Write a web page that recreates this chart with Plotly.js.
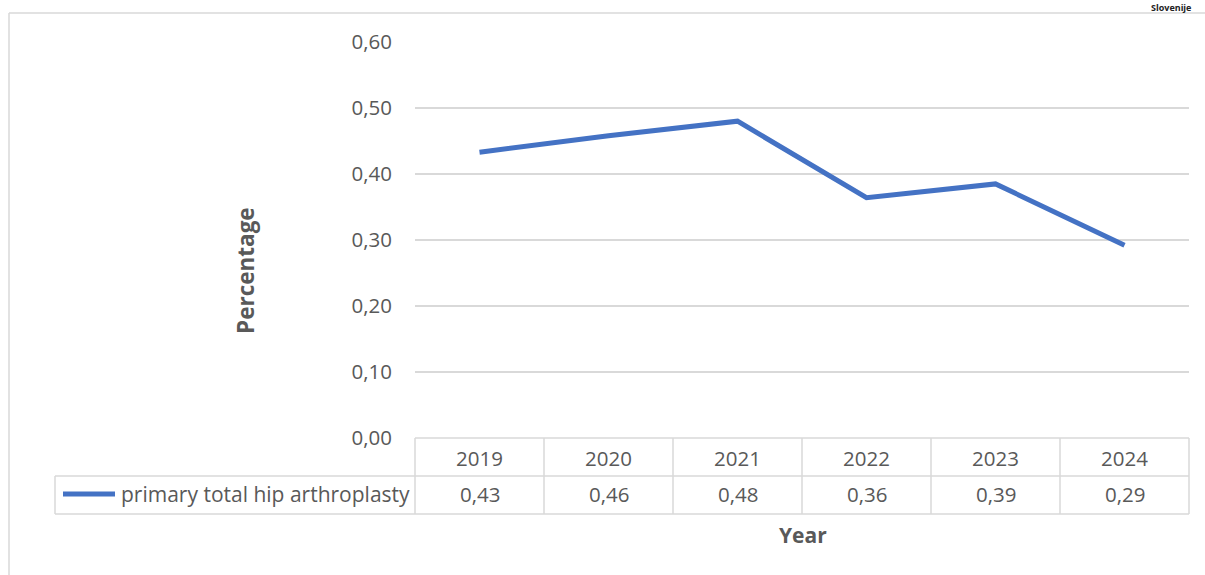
<!DOCTYPE html>
<html>
<head>
<meta charset="utf-8">
<script src="https://cdn.plot.ly/plotly-3.0.1.min.js"></script>
<style>
html,body{margin:0;padding:0;background:#fff;}
#chart{width:1205px;height:575px;}
</style>
</head>
<body>
<div id="chart"></div>
<script>
const years = ["2019", "2020", "2021", "2022", "2023", "2024"];
const values = [0.433, 0.458, 0.480, 0.364, 0.385, 0.292];
const tableLabels = ["0,43", "0,46", "0,48", "0,36", "0,39", "0,29"];
const seriesName = "primary total hip arthroplasty";
const yTicks = [0, 0.1, 0.2, 0.3, 0.4, 0.5, 0.6];

const W = 1205, H = 575;
const px = x => x / W;
const py = y => 1 - y / H;

const plotL = 415, plotR = 1189, plotT = 42, plotB = 438;
const row1B = 476, row2B = 514, legendL = 55;
const gridColor = "#d9d9d9";
const textColor = "#595959";
const font = "'Open Sans', 'Noto Sans', sans-serif";
const fs = 20.5;
const blue = "#4472C4";

const idx = years.map((_, i) => i);
const colW = (plotR - plotL) / years.length;

const shapes = [];
function line(x0, y0, x1, y1, color, width) {
  shapes.push({type: "line", xref: "paper", yref: "paper",
    x0: px(x0), y0: py(y0), x1: px(x1), y1: py(y1),
    line: {color: color, width: width}});
}
// outer frame
line(9, 13, W, 13, gridColor, 1.5);
line(9, 13, 9, H, gridColor, 1.5);
// table horizontals
line(plotL, plotB, plotR, plotB, gridColor, 1.5);
line(legendL, row1B, plotR, row1B, gridColor, 1.5);
line(legendL, row2B, plotR, row2B, gridColor, 1.5);
// table verticals
for (let k = 0; k <= years.length; k++) {
  const x = plotL + k * colW;
  line(x, plotB, x, row2B, gridColor, 1.5);
}
line(legendL, row1B, legendL, row2B, gridColor, 1.5);
// legend key
shapes.push({type: "line", xref: "paper", yref: "paper",
  x0: px(63), y0: py(494), x1: px(115), y1: py(494),
  line: {color: blue, width: 5}});

const annotations = [];
years.forEach((yr, i) => {
  annotations.push({xref: "x", yref: "paper", x: i, y: py(458), text: yr,
    showarrow: false, xanchor: "center", yanchor: "middle",
    font: {family: font, size: fs, color: textColor}});
  annotations.push({xref: "x", yref: "paper", x: i, y: py(494), text: tableLabels[i],
    showarrow: false, xanchor: "center", yanchor: "middle",
    font: {family: font, size: fs, color: textColor}});
});
annotations.push({xref: "paper", yref: "paper", x: px(119), y: py(494), text: seriesName,
  showarrow: false, xanchor: "left", yanchor: "middle",
  font: {family: font, size: 21, color: textColor}});
annotations.push({xref: "paper", yref: "paper", x: px(803), y: py(535), text: "<b>Year</b>",
  showarrow: false, xanchor: "center", yanchor: "middle",
  font: {family: font, size: 21, color: textColor}});
annotations.push({xref: "paper", yref: "paper", x: px(245), y: py(271), text: "<b>Percentage</b>",
  showarrow: false, xanchor: "center", yanchor: "middle", textangle: -90,
  font: {family: font, size: 22.5, color: textColor}});
annotations.push({xref: "paper", yref: "paper", x: px(1171), y: 1, text: "<b>Slovenije</b>",
  showarrow: false, xanchor: "center", yanchor: "top", borderpad: 0,
  font: {family: font, size: 9, color: "#222"}});

const trace = {
  x: idx, y: values, type: "scatter", mode: "lines", name: seriesName,
  line: {color: blue, width: 5, shape: "linear"},
  hoverinfo: "skip"
};

const layout = {
  width: W, height: H,
  margin: {l: 0, r: 0, t: 0, b: 0, pad: 0},
  paper_bgcolor: "#fff", plot_bgcolor: "#fff",
  separators: ", ",
  showlegend: false,
  xaxis: {domain: [px(plotL), px(plotR)], range: [-0.5, years.length - 0.5],
    showgrid: false, zeroline: false, showline: false, showticklabels: false, ticks: "",
    fixedrange: true},
  yaxis: {domain: [py(plotB), py(plotT)], range: [0, 0.6],
    tickvals: yTicks, tickformat: ".2f",
    showgrid: true, gridcolor: gridColor, gridwidth: 1.5,
    zeroline: false, showline: false, ticks: "",
    ticklabelstandoff: 22,
    tickfont: {family: font, size: fs, color: textColor},
    fixedrange: true},
  shapes: shapes,
  annotations: annotations
};

Plotly.newPlot("chart", [trace], layout, {displayModeBar: false, staticPlot: true});
</script>
</body>
</html>
